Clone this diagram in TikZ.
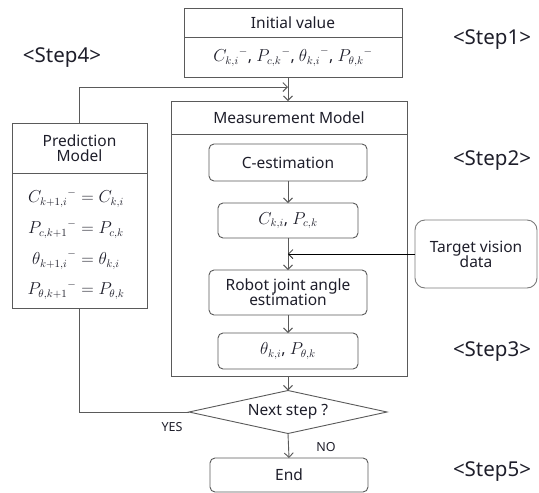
\documentclass[tikz,border=0pt]{standalone}
\usepackage{fontspec}
\setmainfont{Noto Sans}
\usetikzlibrary{arrows.meta,shapes.geometric}
\definecolor{linegray}{HTML}{5A5A5A}
\definecolor{softgray}{HTML}{7A7A7A}
\definecolor{ink}{HTML}{1E1E2A}
\begin{document}
\begin{tikzpicture}[x=1pt,y=-1pt,
  every node/.style={inner sep=0pt, outer sep=0pt, text=ink},
  frame/.style={draw=linegray, line width=0.9pt, fill=white},
  rbox/.style={frame, rounded corners=5pt},
  label/.style={font=\fontsize{15.5}{18}\selectfont},
  steplabel/.style={font=\fontsize{20.5}{24}\selectfont},
  mathlbl/.style={font=\fontsize{16}{19}\selectfont},
  flow/.style={draw=linegray, line width=0.9pt},
  arr/.style={flow, -{Straight Barb[length=4.5pt,width=9pt]}},
]
\useasboundingbox (0,0) rectangle (539,493);

% Initial value
\node[frame, label, minimum width=218, minimum height=29] (initT) at (293,22.5) {Initial value};
\node[frame, mathlbl, minimum width=218, minimum height=40] (initB) at (293,57)
  {${C_{k,i}}^{-}$, ${P_{c,k}}^{-}$, ${\theta_{k,i}}^{-}$, ${P_{\theta,k}}^{-}$};

% Measurement model frame
\node[frame, label, minimum width=236, minimum height=33] (measT) at (289,117.5) {Measurement Model};
\node[frame, minimum width=236, minimum height=242] (measB) at (289,255) {};

\node[rbox, label, minimum width=158, minimum height=37] (cest) at (288,162.5) {C-estimation};
\node[rbox, mathlbl, minimum width=140, minimum height=35] (ck) at (288,220.5) {$C_{k,i}$, $P_{c,k}$};
\node[rbox, label, align=center, minimum width=158, minimum height=45] (robot) at (288,292.5)
  {Robot joint angle\\[-3pt]estimation};
\node[rbox, mathlbl, minimum width=140, minimum height=36] (th) at (288,351) {$\theta_{k,i}$, $P_{\theta,k}$};

% Target vision data
\node[draw=softgray, line width=0.9pt, rounded corners=10pt, label, align=center,
  minimum width=122, minimum height=68] (tgt) at (476,254) {Target vision\\[-3pt]data};

% Prediction model
\node[frame, label, align=center, minimum width=135, minimum height=50] (predT) at (79.5,148)
  {Prediction\\[-3pt]Model};
\node[frame, minimum width=135, minimum height=135] (predB) at (79.5,240.5) {};
\node[mathlbl] (eq1) at (76,198) {${C_{k+1,i}}^{-} = C_{k,i}$};
\node[mathlbl] (eq2) at (76,229) {${P_{c,k+1}}^{-} = P_{c,k}$};
\node[mathlbl] (eq3) at (76,260) {${\theta_{k+1,i}}^{-} = \theta_{k,i}$};
\node[mathlbl] (eq4) at (76,290) {${P_{\theta,k+1}}^{-} = P_{\theta,k}$};

% Decision and end
\node[frame, diamond, aspect=4.6, label, minimum width=198, minimum height=43] (dec) at (288,412) {Next step ?};
\node[rbox, label, minimum width=158, minimum height=34] (fin) at (289,475) {End};

% Step labels
\node[steplabel] (s1) at (492,40) {<Step1>};
\node[steplabel] (s4) at (62,58) {<Step4>};
\node[steplabel] (s2) at (492,161) {<Step2>};
\node[steplabel] (s3) at (492,352) {<Step3>};
\node[steplabel] (s5) at (492,472) {<Step5>};

% Branch labels
\node[font=\fontsize{12.5}{14}\selectfont] (yes) at (172,427) {YES};
\node[font=\fontsize{12.5}{14}\selectfont] (no) at (326,447) {NO};

% Connectors
\coordinate (join) at (288,87);
\draw[arr] (initB.south -| join) -- (join |- measT.north);
\draw[arr] (predT.north) |- (join);
\draw[arr] (cest.south) -- (ck.north);
\draw[arr] (ck.south) -- (robot.north);
\draw[draw=black, line width=0.7pt, -{Straight Barb[length=4.5pt,width=9pt]}] (tgt.west) -- (tgt.west -| ck.south);
\draw[arr] (robot.south) -- (th.north);
\draw[arr] (measB.south -| dec.north) -- (dec.north);
\draw[arr] (dec.south) -- (fin.north);
\draw[flow] (dec.west) -| (predB.south);
\end{tikzpicture}
\end{document}
